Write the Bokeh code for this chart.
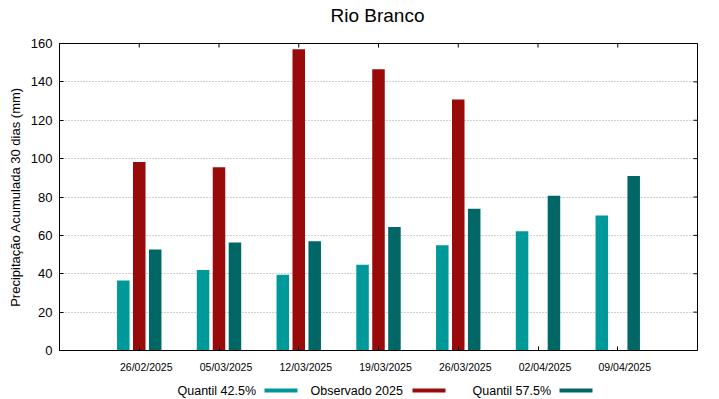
import math
from bokeh.plotting import figure
from bokeh.layouts import column
from bokeh.models import (Range1d, FixedTicker, LinearAxis, CustomJSTickFormatter)
from bokeh.core.properties import value
from bokeh.embed import file_html
from bokeh.resources import INLINE

# ---- data ----
dates = ["26/02/2025", "05/03/2025", "12/03/2025", "19/03/2025",
         "26/03/2025", "02/04/2025", "09/04/2025"]
quantil_425 = [36.5, 41.9, 39.5, 44.7, 54.8, 62.2, 70.3]
observado_2025 = [98.2, 95.5, 157.0, 146.6, 130.8]          # only first 5 dates
quantil_575 = [52.7, 56.3, 56.9, 64.3, 73.9, 80.7, 90.9]
y_ticks = [0, 20, 40, 60, 80, 100, 120, 140, 160]
series_names = ["Quantil 42.5%", "Observado 2025", "Quantil 57.5%"]
title_text = "Rio Branco"

C_Q1 = "#009999"
C_OBS = "#990b0b"
C_Q2 = "#006666"
FONT = "Liberation Sans"
W = 719
BL, BR = 59, 22          # left / right borders around the plot frame
FX0, FX1 = BL, W - BR    # frame extent in page pixels
X0, X1, Y0, Y1 = -1, 7, 0, 160


def strip(h):
    f = figure(width=W, height=h, title=None,
               x_range=Range1d(FX0, FX1), y_range=Range1d(h, 0),
               output_backend="svg", toolbar_location=None,
               x_axis_location=None, y_axis_location=None,
               min_border_left=BL, min_border_right=BR, min_border_top=0, min_border_bottom=0)
    f.outline_line_color = None
    f.xgrid.visible = False
    f.ygrid.visible = False
    f.border_fill_color = "white"
    f.background_fill_color = "white"
    return f


# ---- title strip ----
TH = 30
top = strip(TH)
top.text(x=[377], y=[14.5], text=[title_text], text_font=value(FONT),
         text_font_size="19px", text_color="black",
         text_baseline="middle", text_align="center")

# ---- main chart ----
idx = list(range(len(dates)))
idx_obs = idx[:len(observado_2025)]

p = figure(width=W, height=351, title=None, x_range=Range1d(X0, X1), y_range=Range1d(Y0, Y1),
           output_backend="svg", toolbar_location=None,
           x_axis_location=None, y_axis_location=None,
           min_border_left=BL, min_border_right=BR, min_border_top=13, min_border_bottom=31)

bw = 0.157
off = 0.2
p.vbar(x=[i - off for i in idx], top=quantil_425, width=bw, bottom=0,
       fill_color=C_Q1, line_color=None)
p.vbar(x=idx_obs, top=observado_2025, width=bw, bottom=0,
       fill_color=C_OBS, line_color=None)
p.vbar(x=[i + off for i in idx], top=quantil_575, width=bw, bottom=0,
       fill_color=C_Q2, line_color=None)

# mirror tick marks on the right and top edges (half of each dash is clipped by the frame)
p.scatter(x=[X1] * len(y_ticks), y=y_ticks, marker="dash", size=8,
          line_color="black", line_width=1)
p.scatter(x=idx, y=[Y1] * len(idx), marker="dash", size=8, angle=math.pi / 2,
          line_color="black", line_width=1)

p.outline_line_color = "black"
p.outline_line_width = 1
p.background_fill_color = "white"
p.border_fill_color = "white"

# grid
p.xgrid.visible = False
p.ygrid.ticker = FixedTicker(ticks=y_ticks)
p.ygrid.grid_line_color = "#a0a0a0"
p.ygrid.grid_line_dash = "1 2"
p.ygrid.grid_line_width = 1

# left axis
ya = LinearAxis(ticker=FixedTicker(ticks=y_ticks))
ya.major_tick_in = 4
ya.major_tick_out = 0
ya.minor_tick_in = 0
ya.minor_tick_out = 0
ya.major_label_standoff = 7
ya.major_label_text_font = FONT
ya.major_label_text_font_size = "13px"
ya.major_label_text_color = "black"
ya.axis_label = "Precipitação Acumulada 30 dias (mm)"
ya.axis_label_text_font = FONT
ya.axis_label_text_font_size = "13px"
ya.axis_label_text_font_style = "normal"
ya.axis_label_text_color = "black"
ya.axis_label_standoff = 5
ya.axis_line_color = "black"
ya.major_tick_line_color = "black"
p.add_layout(ya, "left")

# bottom axis: tick marks at categories (minor), labels slightly right (major)
lab_shift = 0.088
xa = LinearAxis(ticker=FixedTicker(ticks=[i + lab_shift for i in idx], minor_ticks=idx))
xa.formatter = CustomJSTickFormatter(args=dict(labels=dates),
                                     code="return labels[Math.round(tick)] || '';")
xa.major_tick_in = 0
xa.major_tick_out = 0
xa.minor_tick_in = 4
xa.minor_tick_out = 0
xa.minor_tick_line_color = "black"
xa.major_label_standoff = 10
xa.major_label_text_font = FONT
xa.major_label_text_font_size = "10.5px"
xa.major_label_text_color = "black"
xa.axis_line_color = "black"
p.add_layout(xa, "below")

# ---- legend strip below (text followed by a swatch) ----
LH = 18
leg = strip(LH)
colors = [C_Q1, C_OBS, C_Q2]
text_x = [177, 310, 472]
sw_l = [264, 412, 559]
sw_r = [297, 445, 592]
yc = 9
leg.text(x=text_x, y=[yc] * 3, text=series_names, text_font=value(FONT),
         text_font_size="12.5px", text_color="black",
         text_baseline="middle", text_align="left")
leg.quad(left=sw_l, right=sw_r, top=[yc - 2] * 3, bottom=[yc + 2] * 3,
         fill_color=colors, line_color=None)

layout = column(top, p, leg, spacing=0)
open("out.html", "w").write(file_html(layout, INLINE))
